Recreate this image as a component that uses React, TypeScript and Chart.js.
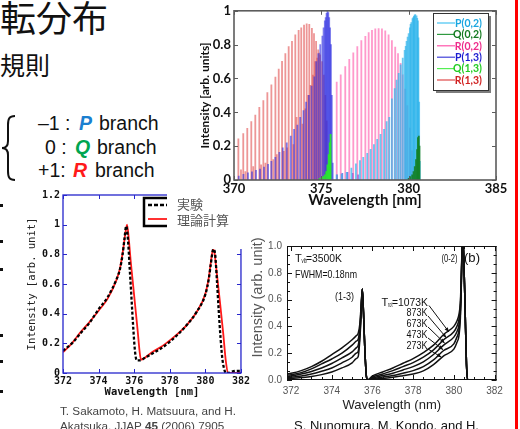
import React, { useEffect, useRef } from "react";
import { Chart, registerables } from "chart.js";

Chart.register(...registerables);

const SANS = '"Liberation Sans", Arial, sans-serif';
const CAL = 'Lato, "Open Sans", sans-serif';
const MONO = '"DejaVu Sans Mono", "Liberation Mono", monospace';
const JP = '"Noto Sans CJK JP", sans-serif';

// ---------------- Top chart (stick spectrum) ----------------
const X1_TICKS = [370, 375, 380, 385];
const Y1_TICKS = [0, 0.2, 0.4, 0.6, 0.8, 1];
const Y1_LABELS = ["0", "0.2", "0.4", "0.6", "0.8", "1"];

const P02_X = [375.88, 376.16, 376.45, 376.72, 376.98, 377.21, 377.4, 377.63, 377.82, 378.01, 378.2, 378.39, 378.59, 378.74, 378.89, 379.04, 379.2, 379.31, 379.43, 379.54, 379.66, 379.77, 379.88, 380.0, 380.07, 380.15, 380.22, 380.3, 380.38, 380.45, 380.53, 380.56, 380.6, 380.64, 380.34, 380.26, 380.11, 380.49, 379.94, 379.83];
const P02_Y = [0.03, 0.035, 0.045, 0.07, 0.095, 0.115, 0.134, 0.157, 0.182, 0.21, 0.24, 0.27, 0.3, 0.345, 0.37, 0.48, 0.54, 0.59, 0.63, 0.68, 0.72, 0.766, 0.82, 0.866, 0.9, 0.93, 0.954, 0.968, 0.977, 0.97, 0.94, 0.84, 0.46, 0.11, 0.975, 0.96, 0.92, 0.955, 0.845, 0.79];

const Q02_X = [380.0, 380.1, 380.2, 380.28, 380.35, 380.42, 380.48, 380.53, 380.58, 380.62];
const Q02_Y = [0.01, 0.02, 0.03, 0.05, 0.08, 0.12, 0.18, 0.25, 0.26, 0.2];

const R02_X = [375.88, 376.11, 376.37, 376.6, 376.83, 377.06, 377.29, 377.52, 377.71, 377.9, 378.09, 378.28, 378.47, 378.66, 378.85, 379.04, 379.23, 379.39, 379.54, 379.66, 379.8, 379.92, 380.07, 380.19];
const R02_Y = [0.578, 0.622, 0.67, 0.713, 0.751, 0.789, 0.824, 0.849, 0.872, 0.885, 0.893, 0.895, 0.893, 0.881, 0.858, 0.824, 0.785, 0.747, 0.69, 0.622, 0.537, 0.44, 0.307, 0.172];

const P13_X = [370.27, 370.54, 370.8, 371.03, 371.26, 371.49, 371.72, 371.95, 372.14, 372.37, 372.6, 372.79, 373.02, 373.25, 373.44, 373.63, 373.79, 373.98, 374.13, 374.29, 374.44, 374.6, 374.71, 374.83, 374.94, 375.06, 375.13, 375.2, 375.25, 375.3, 375.35, 375.4, 375.45, 375.5, 375.55, 375.6, 375.65, 375.9, 376.2, 376.5, 376.8, 377.1];
const P13_Y = [0.023, 0.034, 0.042, 0.048, 0.057, 0.065, 0.077, 0.092, 0.111, 0.134, 0.163, 0.19, 0.22, 0.26, 0.3, 0.325, 0.37, 0.41, 0.46, 0.5, 0.555, 0.61, 0.7, 0.747, 0.8, 0.85, 0.9, 0.94, 0.96, 0.985, 1.0, 0.99, 0.96, 0.9, 0.8, 0.5, 0.1, 0.03, 0.04, 0.045, 0.04, 0.03];

const Q13_X = [374.9, 375.0, 375.1, 375.2, 375.28, 375.35, 375.42, 375.48, 375.53];
const Q13_Y = [0.01, 0.015, 0.02, 0.03, 0.05, 0.09, 0.15, 0.22, 0.27];

const R13_X = [370.25, 370.53, 370.76, 370.99, 371.22, 371.45, 371.68, 371.91, 372.14, 372.37, 372.56, 372.75, 372.94, 373.13, 373.32, 373.51, 373.7, 373.85, 374.01, 374.16, 374.31, 374.46, 374.58, 374.7, 374.82, 374.93, 375.04, 375.14, 375.23, 375.31,
  370.4, 370.65, 371.1, 371.55, 371.8, 372.25, 372.45, 372.85, 373.05, 373.4, 373.58, 373.92, 374.08, 374.24, 374.38, 374.52, 374.64, 374.76, 374.88];
const R13_Y = [0.243, 0.274, 0.306, 0.345, 0.383, 0.429, 0.469, 0.517, 0.563, 0.609, 0.655, 0.701, 0.747, 0.789, 0.82, 0.858, 0.885, 0.9, 0.916, 0.923, 0.92, 0.897, 0.866, 0.82, 0.77, 0.74, 0.7, 0.62, 0.5, 0.35,
  0.06, 0.05, 0.08, 0.09, 0.1, 0.12, 0.15, 0.17, 0.19, 0.21, 0.37, 0.33, 0.42, 0.5, 0.56, 0.62, 0.7, 0.72, 0.75];

// ---------------- Bottom-left chart (experiment vs calc) ----------------
const X2_TICKS = [372, 374, 376, 378, 380, 382];
const Y2_TICKS = [0, 0.2, 0.4, 0.6, 0.8, 1, 1.2];
const Y2_LABELS = ["0", "0.2", "0.4", "0.6", "0.8", "1", "1.2"];
const EXP_X = [372, 372.5, 373, 373.5, 374, 374.5, 375, 375.2, 375.35, 375.45, 375.55, 375.65, 375.75, 375.85, 375.95, 376.05, 376.15, 376.3, 376.5, 377, 377.5, 378, 378.5, 379, 379.5, 380, 380.2, 380.3, 380.45, 380.55, 380.65, 380.75, 380.85, 380.95, 381.05, 381.15, 381.3, 381.5, 381.8, 382];
const EXP_Y = [0.15, 0.2, 0.27, 0.34, 0.43, 0.51, 0.63, 0.7, 0.8, 0.9, 0.99, 0.9, 0.7, 0.5, 0.3, 0.14, 0.085, 0.085, 0.095, 0.13, 0.165, 0.21, 0.265, 0.33, 0.41, 0.53, 0.64, 0.73, 0.835, 0.8, 0.62, 0.42, 0.24, 0.1, 0.03, 0.0, 0.0, 0.01, 0.015, 0.015];
const CALC_X = [372, 372.5, 373, 373.5, 374, 374.5, 375, 375.2, 375.4, 375.5, 375.6, 375.7, 375.8, 375.9, 376, 376.1, 376.2, 376.3, 376.38, 376.5, 377, 377.5, 378, 378.5, 379, 379.5, 380, 380.2, 380.3, 380.43, 380.5, 380.6, 380.8, 381, 381.15, 381.27, 381.5, 382];
const CALC_Y = [0.14, 0.2, 0.277, 0.345, 0.42, 0.5, 0.626, 0.705, 0.85, 0.94, 1.0, 0.9, 0.76, 0.64, 0.52, 0.4, 0.28, 0.15, 0.09, 0.095, 0.14, 0.175, 0.22, 0.27, 0.33, 0.41, 0.535, 0.65, 0.74, 0.834, 0.82, 0.72, 0.5, 0.27, 0.08, 0.0, 0.0, 0.0];

// ---------------- Bottom-right chart (T_rot dependence) ----------------
const X3_TICKS = [372, 374, 376, 378, 380, 382];
const Y3_TICKS = [0, 0.2, 0.4, 0.6, 0.8, 1.0];
const Y3_LABELS = ["0.0", "0.2", "0.4", "0.6", "0.8", "1.0"];
const TROT_X = [371.8, 372, 372.5, 373, 373.5, 374, 374.5, 375, 375.2, 375.3, 375.38, 375.44, 375.5, 375.56, 375.62, 375.7, 375.76, 376, 376.5, 377, 377.5, 378, 378.5, 379, 379.5, 380, 380.15, 380.25, 380.32, 380.37, 380.42, 380.48, 380.55, 380.62, 380.68, 381, 382.1];
const T1073_Y = [0.045, 0.05, 0.07, 0.1, 0.14, 0.19, 0.24, 0.3, 0.33, 0.35, 0.42, 0.55, 0.68, 0.5, 0.25, 0.03, 0.0, 0.03, 0.06, 0.09, 0.125, 0.16, 0.205, 0.26, 0.34, 0.4, 0.44, 0.49, 0.58, 0.8, 1.05, 0.95, 0.55, 0.12, 0.0, 0.0, 0.0];
const T873_Y = [0.035, 0.04, 0.055, 0.083, 0.12, 0.157, 0.2, 0.26, 0.29, 0.305, 0.39, 0.53, 0.68, 0.5, 0.25, 0.03, 0.0, 0.022, 0.045, 0.07, 0.1, 0.13, 0.17, 0.225, 0.3, 0.36, 0.4, 0.45, 0.55, 0.78, 1.05, 0.95, 0.55, 0.12, 0.0, 0.0, 0.0];
const T673_Y = [0.025, 0.03, 0.045, 0.064, 0.09, 0.123, 0.165, 0.21, 0.24, 0.26, 0.36, 0.51, 0.68, 0.5, 0.25, 0.03, 0.0, 0.015, 0.033, 0.05, 0.075, 0.1, 0.135, 0.19, 0.26, 0.32, 0.36, 0.41, 0.52, 0.76, 1.05, 0.95, 0.55, 0.12, 0.0, 0.0, 0.0];
const T473_Y = [0.015, 0.02, 0.03, 0.044, 0.065, 0.09, 0.128, 0.17, 0.2, 0.215, 0.33, 0.49, 0.68, 0.5, 0.25, 0.03, 0.0, 0.01, 0.022, 0.033, 0.05, 0.07, 0.1, 0.15, 0.22, 0.27, 0.32, 0.37, 0.49, 0.74, 1.05, 0.95, 0.55, 0.12, 0.0, 0.0, 0.0];
const T273_Y = [0.008, 0.012, 0.018, 0.026, 0.04, 0.06, 0.09, 0.128, 0.16, 0.175, 0.3, 0.47, 0.68, 0.5, 0.25, 0.03, 0.0, 0.005, 0.012, 0.02, 0.032, 0.045, 0.068, 0.115, 0.18, 0.23, 0.28, 0.33, 0.46, 0.72, 1.05, 0.95, 0.55, 0.12, 0.0, 0.0, 0.0];
const TROT_LABELS = ["1073K", "873K", "673K", "473K", "273K"];
const ARROW_TIP_X = [379.76, 379.63, 379.55, 379.47, 379.39];
const ARROW_TIP_Y = [0.358, 0.316, 0.275, 0.226, 0.17];

function xy(xs: number[], ys: number[]) {
  return xs.map((x, i) => ({ x, y: ys[i] }));
}

function baseAxis(extra: any) {
  return {
    grid: { display: false, drawTicks: false },
    border: { display: false },
    ...extra,
  };
}

// ---------------- Chart 1 ----------------
function buildChart1() {
  const sets = [
    { label: "P(0,2)", xs: P02_X, ys: P02_Y, fill: "rgba(45,180,235,0.7)", line: "#45c3f2", text: "#1aa6e0", order: 2 },
    { label: "Q(0,2)", xs: Q02_X, ys: Q02_Y, fill: "rgba(20,130,40,0.9)", line: "#2f9a40", text: "#137a1f", order: 1 },
    { label: "R(0,2)", xs: R02_X, ys: R02_Y, fill: "rgba(255,80,165,0.58)", line: "#ff55aa", text: "#ee2a8a", order: 3 },
    { label: "P(1,3)", xs: P13_X, ys: P13_Y, fill: "rgba(45,45,225,0.6)", line: "#4040d8", text: "#1c1cd0", order: 5 },
    { label: "Q(1,3)", xs: Q13_X, ys: Q13_Y, fill: "rgba(40,235,40,0.9)", line: "#55ee55", text: "#22cc22", order: 4 },
    { label: "R(1,3)", xs: R13_X, ys: R13_Y, fill: "rgba(226,85,85,0.62)", line: "#e04848", text: "#d02020", order: 6 },
  ];
  const frame = {
    id: "frame1",
    afterDatasetsDraw(chart: any) {
      const { ctx, chartArea: a, scales } = chart;
      ctx.save();
      ctx.strokeStyle = "#5c5c5c";
      ctx.lineWidth = 1.6;
      ctx.strokeRect(a.left, a.top, a.right - a.left, a.bottom - a.top);
      ctx.lineWidth = 1;
      ctx.beginPath();
      X1_TICKS.forEach((v) => {
        const p = Math.round(scales.x.getPixelForValue(v)) + 0.5;
        ctx.moveTo(p, a.top); ctx.lineTo(p, a.top + 4);
        ctx.moveTo(p, a.bottom); ctx.lineTo(p, a.bottom - 4);
      });
      Y1_TICKS.forEach((v) => {
        const p = Math.round(scales.y.getPixelForValue(v)) + 0.5;
        ctx.moveTo(a.left, p); ctx.lineTo(a.left + 4, p);
        ctx.moveTo(a.right, p); ctx.lineTo(a.right - 4, p);
      });
      ctx.stroke();
      ctx.restore();
    },
  };
  const legend = {
    id: "legend1",
    afterDraw(chart: any) {
      const ctx = chart.ctx;
      const L = 238, T = 13, W = 55, H = 77;
      ctx.save();
      ctx.fillStyle = "#7d7d7d";
      ctx.fillRect(L + 3, T + 3, W, H);
      ctx.fillStyle = "#ffffff";
      ctx.fillRect(L, T, W, H);
      ctx.strokeStyle = "#333";
      ctx.lineWidth = 1;
      ctx.strokeRect(L + 0.5, T + 0.5, W, H);
      ctx.font = `bold 10.5px ${CAL}`;
      ctx.textAlign = "right";
      ctx.textBaseline = "middle";
      chart.data.datasets.forEach((d: any, i: number) => {
        const y = T + 10 + i * 11.4;
        ctx.strokeStyle = d.legendLine;
        ctx.lineWidth = 1.2;
        ctx.beginPath();
        ctx.moveTo(L + 4, y);
        ctx.lineTo(L + 22, y);
        ctx.stroke();
        ctx.fillStyle = d.legendText;
        ctx.fillText(d.label, L + W - 6, y + 0.5);
      });
      ctx.restore();
    },
  };
  return {
    type: "bar",
    data: {
      datasets: sets.map((s) => ({
        label: s.label,
        data: xy(s.xs, s.ys),
        backgroundColor: s.fill,
        borderWidth: 0,
        barThickness: 1.15,
        grouped: false,
        order: s.order,
        legendLine: s.line,
        legendText: s.text,
      })),
    },
    options: {
      animation: false,
      responsive: false,
      devicePixelRatio: 1,
      layout: { padding: { left: 0, right: 14, top: 5, bottom: 0 } },
      plugins: { legend: { display: false }, tooltip: { enabled: false } },
      scales: {
        x: baseAxis({
          type: "linear", min: 370, max: 385, offset: false,
          afterBuildTicks: (s: any) => { s.ticks = X1_TICKS.map((v) => ({ value: v })); },
          afterFit: (s: any) => { s.height = 32; },
          ticks: { autoSkip: false, maxRotation: 0, padding: 1, color: "#111", font: { family: CAL, size: 13, weight: "bold" }, callback: (v: any) => String(v) },
          title: { display: true, text: "Wavelength [nm]", color: "#111", font: { family: CAL, size: 15, weight: "bold" }, padding: { top: 0, bottom: 3 } },
        }),
        y: baseAxis({
          type: "linear", min: 0, max: 1,
          afterBuildTicks: (s: any) => { s.ticks = Y1_TICKS.map((v) => ({ value: v })); },
          afterFit: (s: any) => { s.width = 39; },
          ticks: { autoSkip: false, padding: 3, color: "#111", font: { family: CAL, size: 13, weight: "bold" }, callback: (v: any) => Y1_LABELS[Y1_TICKS.indexOf(v)] ?? String(v) },
          title: { display: true, text: "Intensity [arb. units]", color: "#111", font: { family: CAL, size: 12, weight: "bold" }, padding: { top: 3, bottom: 0 } },
        }),
      },
    },
    plugins: [frame, legend],
  };
}

// ---------------- Chart 2 ----------------
function buildChart2() {
  const frame = {
    id: "frame2",
    afterDatasetsDraw(chart: any) {
      const { ctx, chartArea: a, scales } = chart;
      ctx.save();
      ctx.strokeStyle = "#2626cc";
      ctx.lineWidth = 1.3;
      ctx.strokeRect(a.left, a.top, a.right - a.left, a.bottom - a.top);
      ctx.lineWidth = 1;
      ctx.beginPath();
      X2_TICKS.forEach((v) => {
        const p = Math.round(scales.x.getPixelForValue(v)) + 0.5;
        ctx.moveTo(p, a.top); ctx.lineTo(p, a.top + 4);
        ctx.moveTo(p, a.bottom); ctx.lineTo(p, a.bottom - 4);
      });
      Y2_TICKS.forEach((v) => {
        const p = Math.round(scales.y.getPixelForValue(v)) + 0.5;
        ctx.moveTo(a.left, p); ctx.lineTo(a.left + 4, p);
        ctx.moveTo(a.right, p); ctx.lineTo(a.right - 4, p);
      });
      ctx.stroke();
      ctx.restore();
    },
    afterDraw(chart: any) {
      const ctx = chart.ctx;
      ctx.save();
      // white block hiding the corner of the plot
      ctx.fillStyle = "#ffffff";
      ctx.fillRect(167, 11, 86, 55);
      // partial legend box
      ctx.strokeStyle = "#000";
      ctx.lineWidth = 2.5;
      ctx.beginPath();
      ctx.moveTo(167, 15); ctx.lineTo(144, 15); ctx.lineTo(144, 43); ctx.lineTo(167, 43);
      ctx.stroke();
      ctx.setLineDash([4, 2]);
      ctx.lineWidth = 2.5;
      ctx.beginPath();
      ctx.moveTo(148, 22); ctx.lineTo(167, 22);
      ctx.stroke();
      ctx.setLineDash([]);
      ctx.strokeStyle = "#ff1a1a";
      ctx.lineWidth = 1.8;
      ctx.beginPath();
      ctx.moveTo(148, 36); ctx.lineTo(167, 36);
      ctx.stroke();
      ctx.fillStyle = "#555";
      ctx.font = `13px ${JP}`;
      ctx.textAlign = "left";
      ctx.textBaseline = "middle";
      ctx.fillText(chart.data.datasets[1].label, 177, 21);
      ctx.fillText(chart.data.datasets[0].label, 177, 37);
      ctx.restore();
    },
  };
  return {
    type: "line",
    data: {
      datasets: [
        { label: "理論計算", data: xy(CALC_X, CALC_Y), borderColor: "#ff1a1a", borderWidth: 1.8, pointRadius: 0, cubicInterpolationMode: "monotone", order: 2 },
        { label: "実験", data: xy(EXP_X, EXP_Y), borderColor: "#000", borderWidth: 2.3, borderDash: [3, 2], pointRadius: 0, cubicInterpolationMode: "monotone", order: 1 },
      ],
    },
    options: {
      animation: false,
      responsive: false,
      devicePixelRatio: 1,
      layout: { padding: { left: 0, right: 9, top: 12, bottom: 0 } },
      plugins: { legend: { display: false }, tooltip: { enabled: false } },
      scales: {
        x: baseAxis({
          type: "linear", min: 372, max: 382,
          afterBuildTicks: (s: any) => { s.ticks = X2_TICKS.map((v) => ({ value: v })); },
          afterFit: (s: any) => { s.height = 32; },
          ticks: { autoSkip: false, maxRotation: 0, padding: 2, color: "#111", font: { family: MONO, size: 10, weight: "bold" }, callback: (v: any) => String(v) },
          title: { display: true, text: "Wavelength [nm]", color: "#111", font: { family: MONO, size: 10.5, weight: "bold" }, padding: { top: 0, bottom: 6 } },
        }),
        y: baseAxis({
          type: "linear", min: 0, max: 1.2,
          afterBuildTicks: (s: any) => { s.ticks = Y2_TICKS.map((v) => ({ value: v })); },
          afterFit: (s: any) => { s.width = 63; },
          ticks: { autoSkip: false, padding: 3, color: "#111", font: { family: MONO, size: 10, weight: "bold" }, callback: (v: any) => Y2_LABELS[Y2_TICKS.indexOf(v)] ?? String(v) },
          title: { display: true, text: "Intensity [arb. unit]", color: "#222", font: { family: MONO, size: 10.5 }, padding: { top: 26, bottom: 0 } },
        }),
      },
    },
    plugins: [frame],
  };
}

// ---------------- Chart 3 ----------------
function buildChart3() {
  const OX = 250, OY = 235;
  const deco = {
    id: "deco3",
    afterDatasetsDraw(chart: any) {
      const { ctx, chartArea: a, scales } = chart;
      const xs = scales.x, ys = scales.y;
      ctx.save();
      ctx.strokeStyle = "#111";
      ctx.lineWidth = 1;
      ctx.strokeRect(a.left + 0.5, a.top + 0.5, a.right - a.left - 1, a.bottom - a.top - 1);
      ctx.beginPath();
      for (let i = 0; i < X3_TICKS.length; i++) {
        for (let k = 0; k < 4; k++) {
          const v = X3_TICKS[i] + k * 0.5;
          if (v > 382) continue;
          const len = k === 0 ? 5 : 3;
          const p = Math.round(xs.getPixelForValue(v)) + 0.5;
          ctx.moveTo(p, a.top); ctx.lineTo(p, a.top + len);
          ctx.moveTo(p, a.bottom); ctx.lineTo(p, a.bottom - len);
        }
      }
      for (let i = 0; i < Y3_TICKS.length; i++) {
        for (let k = 0; k < 3; k++) {
          const v = Y3_TICKS[i] + (k * 0.2) / 3;
          if (v > 1.0001) continue;
          const len = k === 0 ? 5 : 3;
          const p = Math.round(ys.getPixelForValue(v)) + 0.5;
          ctx.moveTo(a.left, p); ctx.lineTo(a.left + len, p);
          ctx.moveTo(a.right, p); ctx.lineTo(a.right - len, p);
        }
      }
      ctx.stroke();

      // annotations
      const txt = (t: string, x: number, y: number, size: number, maxW?: number, align = "left") => {
        ctx.font = `${size}px ${SANS}`;
        ctx.textAlign = align;
        ctx.textBaseline = "middle";
        if (maxW) ctx.fillText(t, x - OX, y - OY, maxW);
        else ctx.fillText(t, x - OX, y - OY);
      };
      ctx.fillStyle = "#111";
      txt("T", 295, 258.5, 11);
      txt("vib", 301.5, 261.5, 6.5, 5.5);
      txt("=3500K", 306, 258.5, 11, 36);
      txt("FWHM=0.18nm", 295, 275, 11, 62);
      txt("(1-3)", 335, 297, 11, 19);
      txt("(0-2)", 441.5, 258.5, 11, 16);
      txt("(b)", 464, 258.5, 13.5, 16);
      txt("T", 381.5, 302.5, 11);
      txt("rot", 388, 305.5, 6.5, 4.5);
      txt("=" + TROT_LABELS[0], 392, 302.5, 11, 36);
      for (let i = 1; i < TROT_LABELS.length; i++) {
        txt(TROT_LABELS[i], 427.5, 302.5 + i * 10.9, 11, 21, "right");
      }
      // arrows
      const starts = [[429, 305.5], [428, 316], [428, 327], [428, 338], [428, 349]];
      ctx.strokeStyle = "#111";
      ctx.fillStyle = "#111";
      ctx.lineWidth = 1;
      for (let i = 0; i < starts.length; i++) {
        const sx = starts[i][0] - OX, sy = starts[i][1] - OY;
        const ex = xs.getPixelForValue(ARROW_TIP_X[i]);
        const ey = ys.getPixelForValue(ARROW_TIP_Y[i]);
        ctx.beginPath();
        ctx.moveTo(sx, sy);
        ctx.lineTo(ex, ey);
        ctx.stroke();
        const ang = Math.atan2(ey - sy, ex - sx);
        ctx.beginPath();
        ctx.moveTo(ex, ey);
        ctx.lineTo(ex - 5 * Math.cos(ang - 0.4), ey - 5 * Math.sin(ang - 0.4));
        ctx.lineTo(ex - 5 * Math.cos(ang + 0.4), ey - 5 * Math.sin(ang + 0.4));
        ctx.closePath();
        ctx.fill();
      }
      // y-axis title
      ctx.save();
      ctx.translate(258 - OX, 297.5 - OY);
      ctx.rotate(-Math.PI / 2);
      ctx.font = `14.5px ${SANS}`;
      ctx.fillStyle = "#555";
      ctx.textAlign = "center";
      ctx.textBaseline = "middle";
      ctx.fillText("Intensity (arb. unit)", 0, 0);
      ctx.restore();
      ctx.restore();
    },
  };
  const curves = [T1073_Y, T873_Y, T673_Y, T473_Y, T273_Y];
  return {
    type: "line",
    data: {
      datasets: curves.map((ys, i) => ({
        label: TROT_LABELS[i],
        data: xy(TROT_X, ys),
        borderColor: "#111",
        borderWidth: 1.5,
        pointRadius: 0,
        cubicInterpolationMode: "monotone",
      })),
    },
    options: {
      animation: false,
      responsive: false,
      devicePixelRatio: 1,
      layout: { padding: { left: 0, right: 11, top: 8, bottom: 16 } },
      plugins: { legend: { display: false }, tooltip: { enabled: false } },
      scales: {
        x: baseAxis({
          type: "linear", min: 371.8, max: 382.1,
          afterBuildTicks: (s: any) => { s.ticks = X3_TICKS.map((v) => ({ value: v })); },
          afterFit: (s: any) => { s.height = 33; },
          ticks: { autoSkip: false, maxRotation: 0, padding: 5, color: "#555", font: { family: SANS, size: 10 }, callback: (v: any) => String(v) },
          title: { display: true, text: "Wavelength (nm)", color: "#222", font: { family: SANS, size: 13 }, padding: { top: 0, bottom: 0 } },
        }),
        y: baseAxis({
          type: "linear", min: 0, max: 1.0,
          afterBuildTicks: (s: any) => { s.ticks = Y3_TICKS.map((v) => ({ value: v })); },
          afterFit: (s: any) => { s.width = 37; },
          ticks: { autoSkip: false, padding: 5, color: "#555", font: { family: SANS, size: 10 }, callback: (v: any) => Y3_LABELS[Y3_TICKS.indexOf(v)] ?? String(v) },
        }),
      },
    },
    plugins: [deco],
  };
}

function ChartBox(props: { left: number; top: number; width: number; height: number; build: () => any }) {
  const ref = useRef<HTMLCanvasElement | null>(null);
  useEffect(() => {
    if (!ref.current) return;
    const chart = new Chart(ref.current, props.build());
    return () => chart.destroy();
  }, []);
  return (
    <canvas
      ref={ref}
      width={props.width}
      height={props.height}
      style={{ position: "absolute", left: props.left, top: props.top, width: props.width, height: props.height }}
    />
  );
}

const abs = (extra: any) => ({ position: "absolute" as const, whiteSpace: "nowrap" as const, lineHeight: 1, ...extra });

export default function App() {
  const lineFont = { fontFamily: SANS, fontSize: 19.5, color: "#111" };
  const letter = (c: string) => ({ fontWeight: 700, fontStyle: "italic", color: c });
  return (
    <div style={{ position: "fixed", left: 0, top: 0, width: 520, height: 429, overflow: "hidden", background: "#fff" }}>
      <div style={abs({ left: 0, top: -2, fontFamily: JP, fontSize: 36, color: "#111" })}>転分布</div>
      <div style={abs({ left: 0, top: 52, fontFamily: JP, fontSize: 25, color: "#111" })}>規則</div>

      <svg width={20} height={70} style={{ position: "absolute", left: 0, top: 113 }}>
        <path d="M15,3 C9,3 8,6 8,12 L8,28 C8,33 6,35 2,35 C6,35 8,37 8,42 L8,58 C8,64 9,67 15,67" fill="none" stroke="#111" strokeWidth={2} />
      </svg>

      <div style={abs({ ...lineFont, left: 38, top: 114 })}>–1 :</div>
      <div style={abs({ ...lineFont, ...letter("#1a7fd0"), left: 79, top: 114 })}>P</div>
      <div style={abs({ ...lineFont, left: 99, top: 114 })}>branch</div>

      <div style={abs({ ...lineFont, left: 45, top: 137.5 })}>0 :</div>
      <div style={abs({ ...lineFont, ...letter("#00a550"), left: 75, top: 137.5 })}>Q</div>
      <div style={abs({ ...lineFont, left: 97, top: 137.5 })}>branch</div>

      <div style={abs({ ...lineFont, left: 38, top: 161 })}>+1:</div>
      <div style={abs({ ...lineFont, ...letter("#ff1a1a"), left: 73, top: 161 })}>R</div>
      <div style={abs({ ...lineFont, left: 95, top: 161 })}>branch</div>

      {[204, 240, 267.5, 333.5, 359.5, 389.5].map((y) => (
        <div key={y} style={{ position: "absolute", left: 0, top: y, width: 3, height: 3, background: "#111" }} />
      ))}

      <ChartBox left={195} top={0} width={315} height={212} build={buildChart1} />
      <ChartBox left={0} top={183} width={252} height={222} build={buildChart2} />
      <ChartBox left={250} top={235} width={258} height={194} build={buildChart3} />

      <div style={abs({ left: 60, top: 404.5, fontFamily: SANS, fontSize: 11.7, color: "#444" })}>T. Sakamoto, H. Matsuura, and H.</div>
      <div style={abs({ left: 60, top: 419.5, fontFamily: SANS, fontSize: 11.7, color: "#444" })}>
        Akatsuka, JJAP <b>45</b> (2006) 7905
      </div>
      <div style={abs({ left: 294, top: 418.5, fontFamily: SANS, fontSize: 13, color: "#111" })}>S. Nunomura, M. Kondo, and H.</div>

      <div style={{ position: "absolute", left: 515, top: 0, width: 3, height: 429, background: "#ff0000" }} />
    </div>
  );
}
